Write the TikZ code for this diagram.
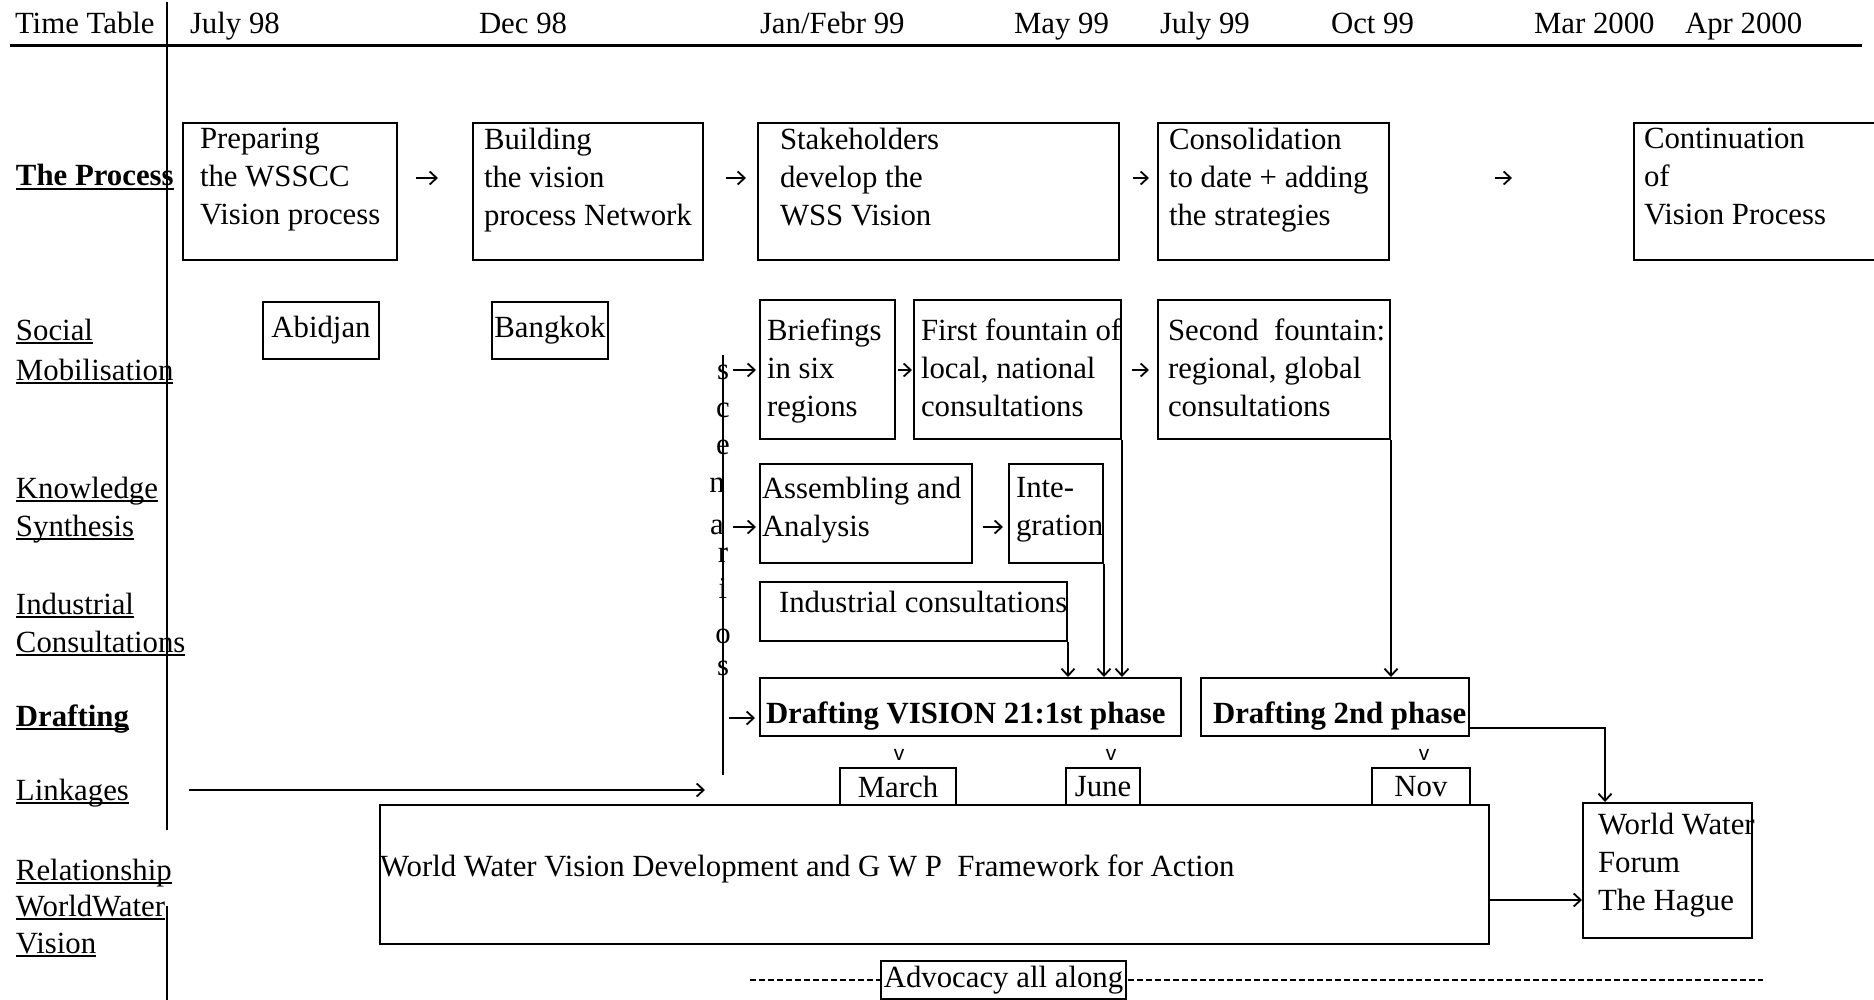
\documentclass[tikz,border=0pt]{standalone}
\usepackage{fontspec}
\setmainfont{Liberation Serif}
\newfontfamily\markfont{Liberation Sans}
\usepackage{tikz}
\usetikzlibrary{positioning}
\usetikzlibrary{fit}
\usetikzlibrary{arrows.meta}
% thick underline for the row titles
\newcommand{\rowul}[1]{\setbox0\hbox{#1}\leavevmode\rlap{\rule[-4pt]{\wd0}{2pt}}\box0}
\tikzset{every picture/.style={line width=2pt},
  every node/.style={font=\fontsize{30.8}{38}\selectfont},
  box/.style={draw,inner sep=0pt},
  boxtext/.style={anchor=north west,align=left,inner sep=0pt},
  rowlabel/.style={anchor=base west,inner sep=0pt},
  head/.style={anchor=base west,inner sep=0pt},
  scen/.style={inner sep=0pt},
  vmark/.style={inner sep=0pt,font=\markfont\fontsize{21}{21}\selectfont},
  arr/.style={-{Straight Barb[length=7pt,width=13pt]},line width=1.8pt},
  advline/.style={dash pattern=on 6pt off 3pt}}

\begin{document}
\begin{tikzpicture}[x=1pt,y=-1pt]
\useasboundingbox (0,0) rectangle (1874,1000);

% time axis
\foreach \hx/\htxt in {14/Time Table, 189/July 98, 478/Dec 98, 759/{Jan/Febr 99}, 1013/May 99, 1159/July 99, 1330/Oct 99, 1533/Mar 2000, 1684/Apr 2000}
  \node[head] (hd\hx) at (\hx,34) {\htxt};
\coordinate (hl) at (10,46);
\coordinate (hr) at (1862,46);
\draw[line width=3pt] (hl) -- (hr);
\coordinate (vtop) at (167,2);
\coordinate (vmid) at (167,830);
\coordinate (vlow) at (167,906);
\coordinate (vbot) at (167,1000);
\draw (vtop) -- (vmid);
\draw (vlow) -- (vbot);

% row titles
\foreach \ly/\lbl in {186/{\bfseries The Process}, 340/Social, 380/Mobilisation, 498/Knowledge, 536/Synthesis, 614/Industrial, 652/Consultations, 726/{\bfseries Drafting}, 800/Linkages, 880/Relationship, 916/WorldWater, 953/Vision}
  \node[rowlabel] (row\ly) at (15,\ly) {\rowul{\lbl}};

% the process
\node[box, fit={(183,123) (397,260)}] (prep) {};
\node[boxtext, below right=5pt and 17pt of prep.north west] (prept) {Preparing\\the WSSCC\\Vision process};
\node[box, fit={(473,123) (703,260)}] (build) {};
\node[boxtext, below right=5pt and 11pt of build.north west] (buildt) {Building\\the vision\\process Network};
\node[box, fit={(758,123) (1119,260)}] (stake) {};
\node[boxtext, below right=5pt and 22pt of stake.north west] (staket) {Stakeholders\\develop the\\WSS Vision};
\node[box, fit={(1158,123) (1389,260)}] (consol) {};
\node[boxtext, below right=5pt and 11pt of consol.north west] (consolt) {Consolidation\\to date + adding\\the strategies};
\node[box, fit={(1634,123) (1890,260)}] (contin) {};
\node[boxtext, below right=5pt and 10pt of contin.north west] (contint) {Continuation\\of\\Vision Process};
\draw[arr, shorten <=18pt, shorten >=34pt] (prep.east |- 0,178) -- (build.west |- 0,178);
\draw[arr, shorten <=22pt, shorten >=11pt] (build.east |- 0,178) -- (stake.west |- 0,178);
\draw[arr, shorten <=13pt, shorten >=8pt] (stake.east |- 0,178) -- (consol.west |- 0,178);
\draw[arr, shorten <=105pt, shorten >=121pt] (consol.east |- 0,178) -- (contin.west |- 0,178);

% social mobilisation
\node[box, fit={(263,302) (379,359)}] (abid) {};
\node (abidt) at (abid.center) {Abidjan};
\node[box, fit={(492,302) (608,359)}] (bang) {};
\node (bangt) at (bang.center) {Bangkok};
\node[box, fit={(760,300) (895,439)}] (brief) {};
\node[boxtext, below right=19pt and 7pt of brief.north west] (brieft) {Briefings\\in six\\ regions};
\node[box, fit={(914,300) (1121,439)}] (first) {};
\node[boxtext, below right=19pt and 7pt of first.north west] (firstt) {First fountain of\\local, national\\consultations};
\node[box, fit={(1158,300) (1390,439)}] (second) {};
\node[boxtext, below right=19pt and 10pt of second.north west] (secondt) {Second~ fountain:\\regional, global\\consultations};
\draw[arr, shorten <=2pt, shorten >=1pt] (brief.east |- 0,370) -- (first.west |- 0,370);
\draw[arr, shorten <=10pt, shorten >=8pt] (first.east |- 0,370) -- (second.west |- 0,370);

% knowledge synthesis and industry
\node[box, fit={(760,464) (972,563)}] (assem) {};
\node[boxtext, below right=13pt and 2pt of assem.north west] (assemt) {Assembling and\\Analysis};
\node[box, fit={(1009,464) (1103,563)}] (integ) {};
\node[boxtext, below right=13pt and 7pt of integ.north west] (integt) {Inte-\\gration};
\draw[arr, shorten <=10pt, shorten >=5pt] (assem.east |- 0,527) -- (integ.west |- 0,527);
\node[box, fit={(760,582) (1067,641)}] (indus) {};
\node[boxtext, below right=9pt and 19pt of indus.north west] (indust) {Industrial consultations};

% drafting
\node[box, fit={(760,678) (1181,736)}] (draft1) {};
\node[boxtext, below right=24pt and 6pt of draft1.north west] (draft1t) {\bfseries Drafting VISION 21:1st phase};
\node[box, fit={(1201,678) (1469,736)}] (draft2) {};
\node[boxtext, below right=24pt and 12pt of draft2.north west] (draft2t) {\bfseries Drafting 2nd phase};
\draw[arr] (indus.south east) -- (indus.south east |- draft1.north);
\draw[arr] (integ.south east) -- (integ.south east |- draft1.north);
\draw[arr] (first.south east) -- (first.south east |- draft1.north);
\draw[arr] (second.south east) -- (second.south east |- draft2.north);

% scenarios
\coordinate (sctop) at (723,355);
\coordinate (scbot) at (723,775);
\draw (sctop) -- (scbot);
\foreach \sx/\sy/\sc in {723/372/s, 723/410/c, 723/447/e, 717/485/n, 717/527/a, 723/555/r, 723/588/i, 723/636/o, 723/668/s}
  \node[scen] (sc\sy) at (\sx,\sy) {\sc};
\draw[arr, shorten <=10pt, shorten >=3pt] (sctop |- 0,370) -- (brief.west |- 0,370);
\draw[arr, shorten <=10pt, shorten >=3pt] (sctop |- 0,527) -- (assem.west |- 0,527);
\draw[arr, shorten <=6pt, shorten >=4pt] (sctop |- 0,718) -- (draft1.west |- 0,718);

% linkages
\coordinate (lkstart) at (189,790);
\coordinate (lkend) at (705,790);
\draw[arr] (lkstart) -- (lkend);
\node[box, fit={(840,768) (956,805)}] (march) {};
\node (marcht) at (march.center) {March};
\node[box, fit={(1066,768) (1140,805)}] (june) {};
\node (junet) at (june.center) {June};
\node[box, fit={(1372,768) (1470,805)}] (nov) {};
\node (novt) at (nov.center) {Nov};
\node[vmark] (vmarch) at (899,755) {v};
\node[vmark] (vjune) at (1111,755) {v};
\node[vmark] (vnov) at (1424,755) {v};

% relationship with the world water vision
\node[box, fit={(380,805) (1489,944)}] (big) {};
\node[boxtext, below right=50pt and 0pt of big.north west] (bigt) {World Water Vision Development and G W P~ Framework for Action};
\node[box, fit={(1583,803) (1752,938)}] (wwf) {};
\node[boxtext, below right=10pt and 15pt of wwf.north west] (wwft) {World Water\\Forum\\The Hague};
\draw[arr] (draft2.east |- 0,728) -| (wwf.north -| 1605,0);
\draw[arr] (big.east |- 0,900) -- (wwf.west |- 0,900);

% advocacy, dashed all along behind its box
\coordinate (advl) at (750,980);
\coordinate (advr) at (1763,980);
\draw[advline] (advl) -- (advr);
\node[box, fill=white, fit={(881,961) (1126,999)}] (adv) {};
\node (advt) at (adv.center) {Advocacy all along};
\end{tikzpicture}
\end{document}
